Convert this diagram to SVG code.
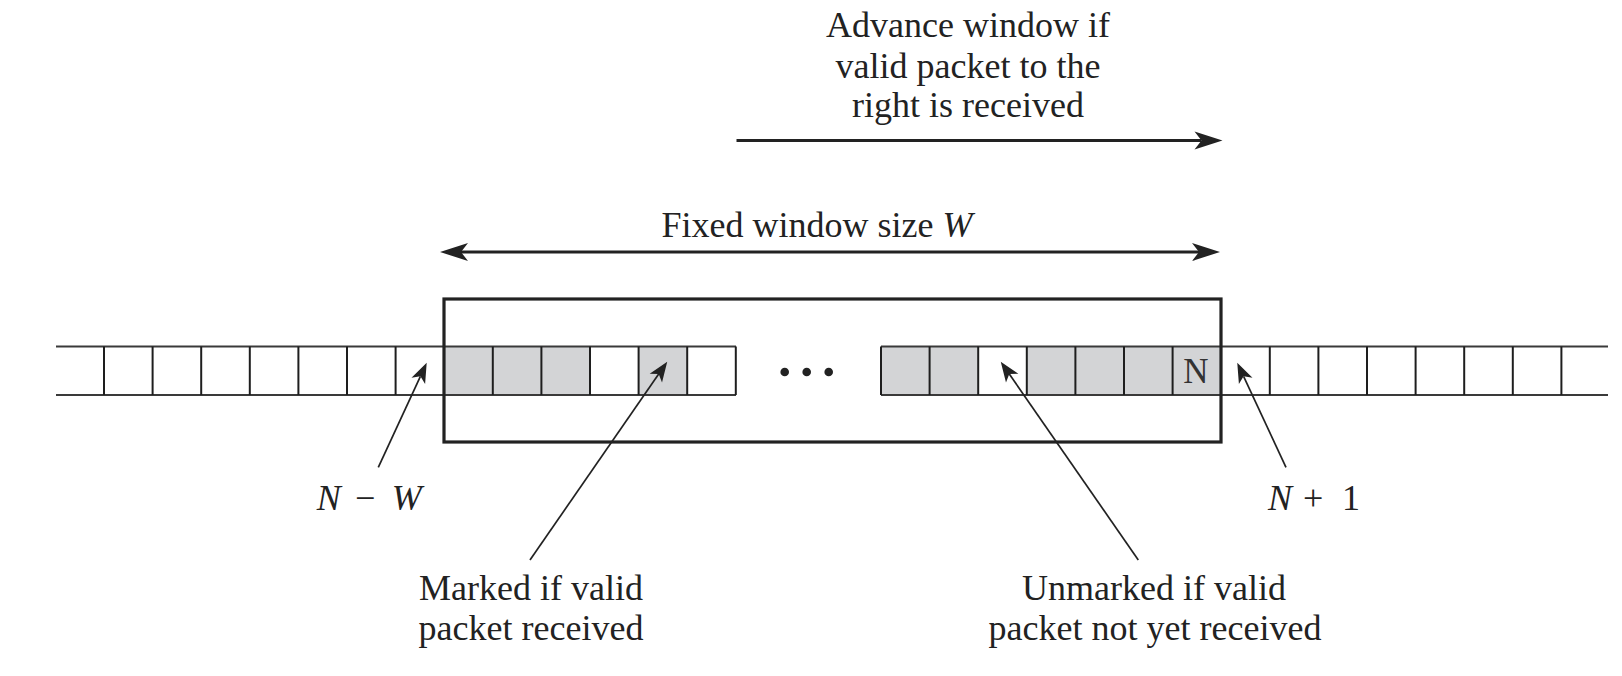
<svg xmlns="http://www.w3.org/2000/svg" width="1622" height="676" viewBox="0 0 1622 676">
<style>
  text { font-family: "Liberation Serif", "Times New Roman", serif; font-size: 36px; fill: #222; }
  .it { font-style: italic; }
  .rail { stroke: #3a3a3a; stroke-width: 2; fill: none; }
  .div { stroke: #1e1e1e; stroke-width: 2; }
  .gray { fill: #d3d4d6; }
  .thick { stroke: #222; stroke-width: 3; fill: none; }
  .thin { stroke: #222; stroke-width: 1.7; fill: none; }
  .box { stroke: #222; stroke-width: 3.2; fill: none; }
</style>
<defs>
  <marker id="headBig" markerUnits="userSpaceOnUse" markerWidth="40" markerHeight="24" viewBox="0 -12 32 24" refX="7" refY="0" orient="auto-start-reverse">
    <path d="M0,-9 L28,0 L0,9 L7,0 Z" fill="#222"/>
  </marker>
  <marker id="headSmall" markerUnits="userSpaceOnUse" markerWidth="26" markerHeight="18" viewBox="0 -9 22 18" refX="5" refY="0" orient="auto">
    <path d="M0,-7.5 L20,0 L0,7.5 L5,0 Z" fill="#222"/>
  </marker>
</defs>
<rect x="0" y="0" width="1622" height="676" fill="#fff"/>

<g id="labels-top">
  <text x="968" y="37" text-anchor="middle">Advance window if</text>
  <text x="968" y="78" text-anchor="middle">valid packet to the</text>
  <text x="968" y="117" text-anchor="middle">right is received</text>
  <text x="817" y="237" text-anchor="middle">Fixed window size <tspan class="it">W</tspan></text>
</g>

<g id="sequence-left">
  <rect class="gray" x="444" y="346.5" width="146" height="48.5"/>
  <rect class="gray" x="638.6" y="346.5" width="48.6" height="48.5"/>
  <line class="rail" x1="56" y1="346.5" x2="736" y2="346.5"/>
  <line class="rail" x1="56" y1="395" x2="736" y2="395"/>
  <g class="div">
    <line x1="104" y1="346.5" x2="104" y2="395"/>
    <line x1="152.6" y1="346.5" x2="152.6" y2="395"/>
    <line x1="201.2" y1="346.5" x2="201.2" y2="395"/>
    <line x1="249.8" y1="346.5" x2="249.8" y2="395"/>
    <line x1="298.4" y1="346.5" x2="298.4" y2="395"/>
    <line x1="347" y1="346.5" x2="347" y2="395"/>
    <line x1="395.6" y1="346.5" x2="395.6" y2="395"/>
    <line x1="492.8" y1="346.5" x2="492.8" y2="395"/>
    <line x1="541.4" y1="346.5" x2="541.4" y2="395"/>
    <line x1="590" y1="346.5" x2="590" y2="395"/>
    <line x1="638.6" y1="346.5" x2="638.6" y2="395"/>
    <line x1="687.2" y1="346.5" x2="687.2" y2="395"/>
    <line x1="735.8" y1="346.5" x2="735.8" y2="395"/>
  </g>
</g>

<g id="ellipsis">
  <circle cx="784.7" cy="372" r="4.3" fill="#222"/>
  <circle cx="806.7" cy="372" r="4.3" fill="#222"/>
  <circle cx="828.7" cy="372" r="4.3" fill="#222"/>
</g>

<g id="sequence-right">
  <rect class="gray" x="881" y="346.5" width="97.2" height="48.5"/>
  <rect class="gray" x="1026.8" y="346.5" width="194.4" height="48.5"/>
  <line class="rail" x1="881" y1="346.5" x2="1608" y2="346.5"/>
  <line class="rail" x1="881" y1="395" x2="1608" y2="395"/>
  <g class="div">
    <line x1="881" y1="346.5" x2="881" y2="395"/>
    <line x1="929.6" y1="346.5" x2="929.6" y2="395"/>
    <line x1="978.2" y1="346.5" x2="978.2" y2="395"/>
    <line x1="1026.8" y1="346.5" x2="1026.8" y2="395"/>
    <line x1="1075.4" y1="346.5" x2="1075.4" y2="395"/>
    <line x1="1124" y1="346.5" x2="1124" y2="395"/>
    <line x1="1172.6" y1="346.5" x2="1172.6" y2="395"/>
    <line x1="1269.8" y1="346.5" x2="1269.8" y2="395"/>
    <line x1="1318.4" y1="346.5" x2="1318.4" y2="395"/>
    <line x1="1367" y1="346.5" x2="1367" y2="395"/>
    <line x1="1415.6" y1="346.5" x2="1415.6" y2="395"/>
    <line x1="1464.2" y1="346.5" x2="1464.2" y2="395"/>
    <line x1="1512.8" y1="346.5" x2="1512.8" y2="395"/>
    <line x1="1561.4" y1="346.5" x2="1561.4" y2="395"/>
  </g>
  <text x="1196" y="383" text-anchor="middle" style="font-size:35px;fill:#333">N</text>
</g>

<g id="window-box">
  <rect class="box" x="444" y="299" width="777" height="143"/>
</g>

<g id="connectors">
  <line class="thick" x1="736.5" y1="140.5" x2="1201.5" y2="140.5" marker-end="url(#headBig)"/>
  <line class="thick" x1="461" y1="252" x2="1199" y2="252" marker-start="url(#headBig)" marker-end="url(#headBig)"/>
  <line class="thin" x1="378.3" y1="467.3" x2="420.4" y2="376.3" marker-end="url(#headSmall)"/>
  <line class="thin" x1="530" y1="560" x2="658.7" y2="374.0" marker-end="url(#headSmall)"/>
  <line class="thin" x1="1138.3" y1="560" x2="1009.3" y2="374.0" marker-end="url(#headSmall)"/>
  <line class="thin" x1="1286" y1="467.3" x2="1243.6" y2="376.3" marker-end="url(#headSmall)"/>
</g>

<g id="labels-bottom">
  <text y="510"><tspan x="316.7" class="it">N</tspan><tspan x="355">−</tspan><tspan x="391.7" class="it">W</tspan></text>
  <text y="510"><tspan x="1268" class="it">N</tspan><tspan x="1303">+</tspan><tspan x="1342">1</tspan></text>
  <text x="531" y="600" text-anchor="middle">Marked if valid</text>
  <text x="531" y="640" text-anchor="middle">packet received</text>
  <text x="1154" y="600" text-anchor="middle">Unmarked if valid</text>
  <text x="1155" y="640" text-anchor="middle">packet not yet received</text>
</g>
</svg>
